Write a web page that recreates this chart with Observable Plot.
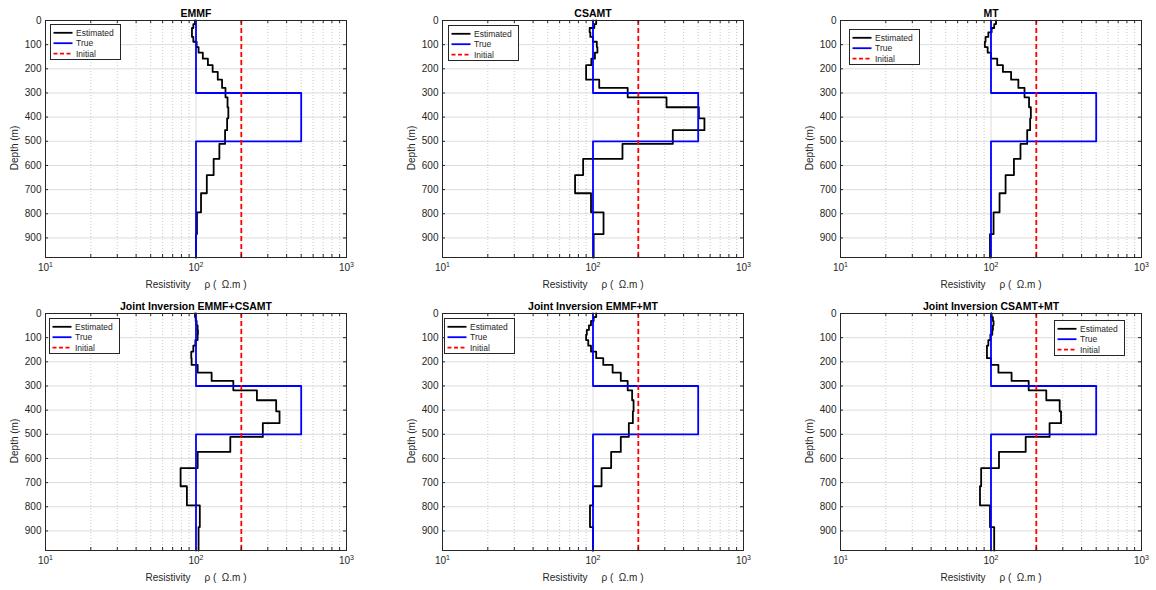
<!DOCTYPE html>
<html><head><meta charset="utf-8">
<script src="https://cdn.jsdelivr.net/npm/d3@7"></script>
<script src="https://cdn.jsdelivr.net/npm/@observablehq/plot@0.6"></script>
<style>
body{margin:0;background:#fff;font-family:"Liberation Sans",Arial,sans-serif;}
#root{position:relative;width:1156px;height:590px;overflow:hidden;background:#fff}
</style></head><body><div id="root"></div>
<script>
// ---------- data ----------
const layerBounds = [0, 15, 31, 49, 68, 88, 110, 133, 158, 185, 213, 245, 279, 318, 359, 405, 454, 511, 573, 640, 715, 794, 884, 981];

const estEMMF       = [98.5, 96, 94, 94, 96, 101, 104, 111, 120, 129, 139.5, 149, 157, 162, 164, 161, 156, 143, 131, 118, 108, 101.5, 100];
const estCSAMT      = [105, 102, 95, 96, 100, 106, 107, 103, 97.5, 90, 90, 110, 170, 308, 505, 550, 339, 157, 86, 76, 97, 117.5, 101];
const estMT         = [108, 105, 101, 96, 92, 91, 95, 100, 110, 120, 136, 152, 167, 179, 184, 182, 174, 157, 142, 125, 114, 104, 98.5];
const estEMMF_CSAMT = [98.5, 99.5, 101, 102.5, 103, 102.5, 99, 96, 93, 93.5, 102.6, 127, 177, 254, 341, 359, 278, 169, 102.6, 79, 87, 106, 104];
const estEMMF_MT    = [105, 101, 97, 94, 91, 90, 93, 97, 105, 117, 135, 153, 170, 182, 186, 184, 173, 153, 132, 114, 100, 95.5, 100];
const estCSAMT_MT   = [101, 103, 104, 103, 102, 99, 96, 94, 94, 100, 112, 137, 178, 233, 286, 292, 245, 170, 113, 86, 84.5, 98.5, 105];

const trueBounds = [0, 300, 500, 981];
const trueValues = [100, 500, 100];
const initialValue = 200;

const titles = ["EMMF", "CSAMT", "MT", "Joint Inversion EMMF+CSAMT", "Joint Inversion EMMF+MT", "Joint Inversion CSAMT+MT"];
const estimates = [estEMMF, estCSAMT, estMT, estEMMF_CSAMT, estEMMF_MT, estCSAMT_MT];

const xMajorTicks = [10, 100, 1000];
const xTickBase = "10";
const xTickExponents = ["1", "2", "3"];
const xMinorTicks = [20, 30, 40, 50, 60, 70, 80, 90, 200, 300, 400, 500, 600, 700, 800, 900];
const yTicks = [0, 100, 200, 300, 400, 500, 600, 700, 800, 900];
const xLabel = "Resistivity\u00a0\u00a0\u00a0\u00a0\u00a0\u03c1\u00a0(\u00a0\u00a0\u03a9.m\u00a0)";
const yLabel = "Depth (m)";
const legendNames = ["Estimated", "True", "Initial"];
const legendColors = ["#000000", "#0000ff", "#ff0000"];
const legendDash = [null, null, "4,2.5"];

// ---------- layout ----------
const W = 385, H = 295, mL = 45, mR = 39, mT = 20, mB = 38;
const plotW = W - mL - mR, plotH = H - mT - mB;
const panelPos = [[0, 0], [397, 0], [795, 0], [0, 293], [397, 293], [795, 293]];
const legendPos = [[50, 24], [448, 25], [849, 29], [49, 318], [444, 318], [1054, 320]];

function stairs(bounds, vals) {
  return vals.flatMap((v, i) => [{x: v, y: bounds[i]}, {x: v, y: bounds[i + 1]}]);
}

const root = document.getElementById("root");
const allXTicks = xMajorTicks.concat(xMinorTicks);

titles.forEach((title, k) => {
  const est = stairs(layerBounds, estimates[k]);
  const tru = stairs(trueBounds, trueValues);
  const chart = Plot.plot({
    width: W, height: H,
    marginLeft: mL, marginRight: mR, marginTop: mT, marginBottom: mB,
    style: {fontFamily: '"Liberation Sans", Arial, sans-serif', fontSize: "10px", color: "#262626", background: "white", overflow: "visible"},
    x: {type: "log", domain: [10, 1000]},
    y: {domain: [0, 981], reverse: true},
    marks: [
      Plot.ruleX(xMinorTicks, {stroke: "#bdbdbd", strokeDasharray: "1,2", strokeWidth: 0.8}),
      Plot.ruleX(xMajorTicks, {stroke: "#dcdcdc", strokeWidth: 1}),
      Plot.ruleY(yTicks, {stroke: "#dcdcdc", strokeWidth: 1}),
      Plot.line(est, {x: "x", y: "y", stroke: "#000000", strokeWidth: 1.8, curve: "linear"}),
      Plot.line(tru, {x: "x", y: "y", stroke: "#0000ff", strokeWidth: 1.8, curve: "linear"}),
      Plot.ruleX([initialValue], {stroke: "#ff0000", strokeWidth: 1.8, strokeDasharray: "5,3"}),
      Plot.frame({stroke: "#262626", strokeWidth: 1}),
      Plot.tickY(yTicks, {y: d => d, stroke: "#262626", insetRight: plotW - 3}),
      Plot.tickY(yTicks, {y: d => d, stroke: "#262626", insetLeft: plotW - 3}),
      Plot.tickX(allXTicks, {x: d => d, stroke: "#262626", insetTop: plotH - 3}),
      Plot.tickX(allXTicks, {x: d => d, stroke: "#262626", insetBottom: plotH - 3}),
      Plot.axisY({ticks: yTicks, tickSize: 0, tickPadding: 4, label: null, fontSize: 10}),
      Plot.axisX({ticks: xMajorTicks, tickSize: 0, tickPadding: 6, label: null, fontSize: 10,
        tickFormat: d => xTickBase + "^" + xTickExponents[xMajorTicks.indexOf(d)]}),
      Plot.text([title], {text: d => d, frameAnchor: "top", dy: -4, lineAnchor: "bottom", fontWeight: "bold", fontSize: 10.5, fill: "#000"}),
      Plot.text([xLabel], {text: d => d, frameAnchor: "bottom", dy: 27, lineAnchor: "middle", fontSize: 10, fill: "#262626"}),
      Plot.text([yLabel], {text: d => d, frameAnchor: "left", textAnchor: "middle", rotate: -90, dx: -31, dy: 9, lineAnchor: "middle", fontSize: 10, fill: "#262626"})
    ]
  });
  // render exponents as raised superscripts
  d3.select(chart).selectAll('g[aria-label="x-axis tick label"] text').each(function () {
    const parts = this.textContent.split("^");
    if (parts.length !== 2) return;
    const t = d3.select(this);
    t.text(null);
    t.append("tspan").text(parts[0]);
    t.append("tspan").attr("dy", "-0.45em").attr("font-size", 7).text(parts[1]);
  });
  chart.style.position = "absolute";
  chart.style.left = panelPos[k][0] + "px";
  chart.style.top = panelPos[k][1] + "px";
  root.appendChild(chart);

  // legend
  const lw = 70, lh = 35;
  const svg = d3.create("svg").attr("width", lw + 2).attr("height", lh + 2)
    .style("position", "absolute").style("left", legendPos[k][0] + "px").style("top", legendPos[k][1] + "px");
  svg.append("rect").attr("x", 0.5).attr("y", 0.5).attr("width", lw).attr("height", lh)
    .attr("fill", "white").attr("stroke", "#262626").attr("stroke-width", 1);
  legendNames.forEach((name, i) => {
    const cy = 8.8 + i * 10.4;
    const ln = svg.append("line").attr("x1", 3.5).attr("x2", 22.5).attr("y1", cy).attr("y2", cy)
      .attr("stroke", legendColors[i]).attr("stroke-width", 1.8);
    if (legendDash[i]) ln.attr("stroke-dasharray", legendDash[i]);
    svg.append("text").attr("x", 26).attr("y", cy).attr("dy", "0.35em")
      .attr("font-size", 8.5).attr("fill", "#262626")
      .attr("font-family", '"Liberation Sans", Arial, sans-serif').text(name);
  });
  root.appendChild(svg.node());
});
</script>
</body></html>
